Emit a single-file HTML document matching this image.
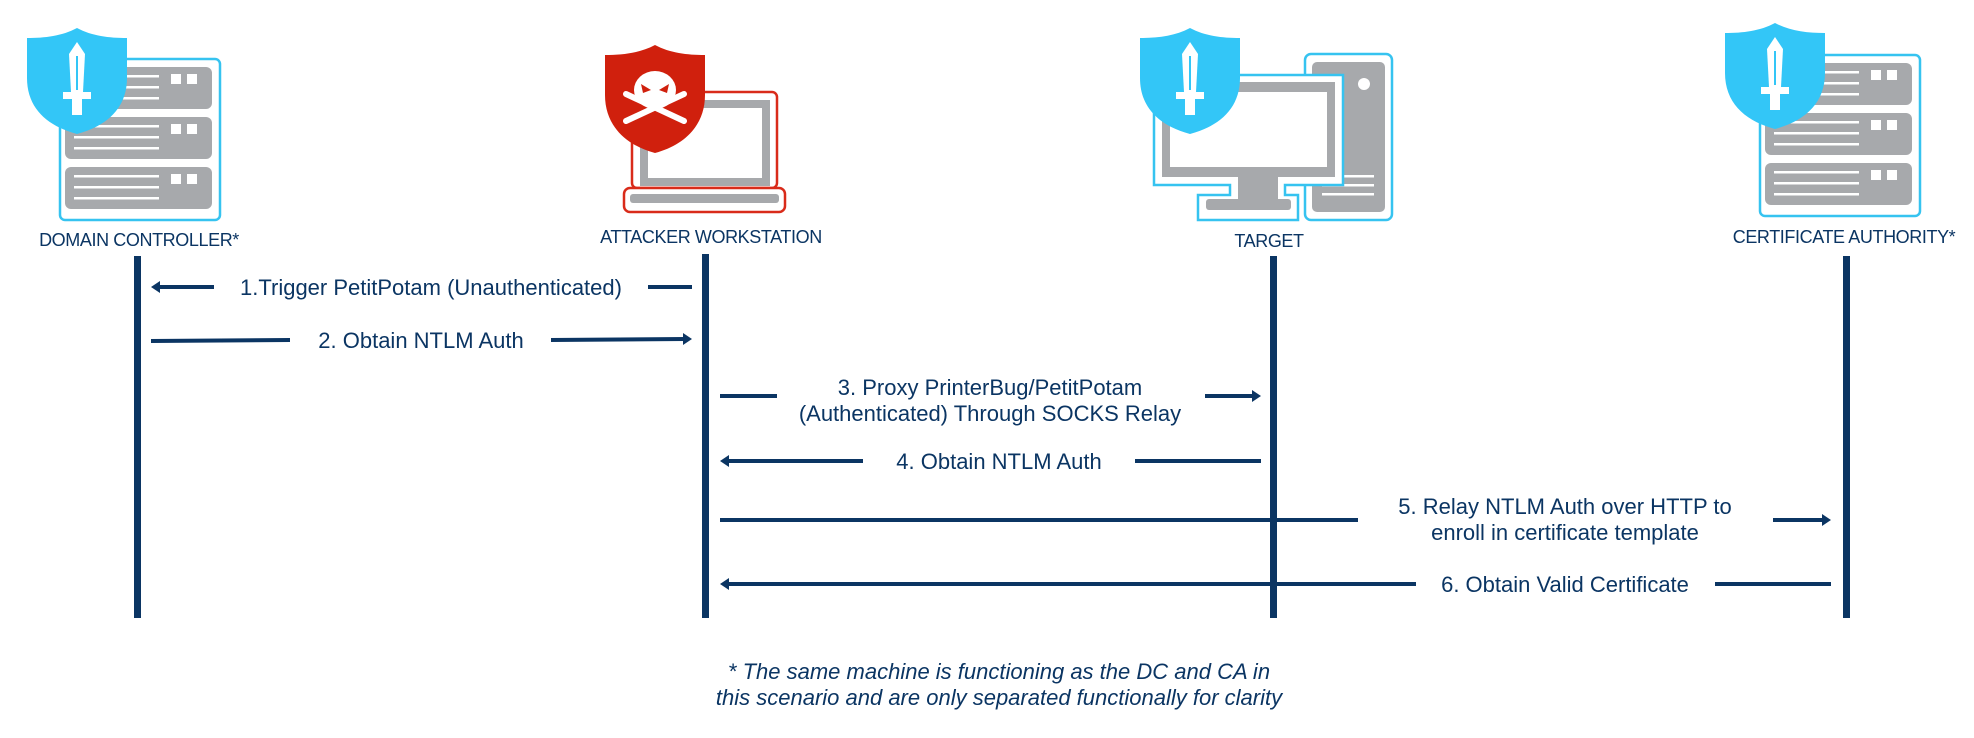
<!DOCTYPE html>
<html><head><meta charset="utf-8"><style>
html,body{margin:0;padding:0;background:#fff}
svg{display:block}
text{font-family:"Liberation Sans",sans-serif;fill:#0b3563}
</style></head><body>
<svg width="1974" height="738" viewBox="0 0 1974 738" xmlns="http://www.w3.org/2000/svg">
<defs>
<g id="shieldB">
<path d="M50,0 C35,8 18,10 0,10 L0,50 C0,80 20,98 50,106 C80,98 100,80 100,50 L100,10 C82,10 65,8 50,0 Z" fill="#33c6f7"/>
<path d="M50,14 L58,26 L56,64 L44,64 L42,26 Z" fill="#fff"/>
<rect x="49" y="28" width="2" height="34" fill="#33c6f7"/>
<rect x="36" y="64" width="28" height="7" fill="#fff"/>
<rect x="45" y="71" width="10" height="16" fill="#fff"/>
</g>
<g id="server">
<rect x="1" y="1" width="160" height="161" rx="5" fill="#fff" stroke="#36c3f0" stroke-width="2.5"/>
<g id="unit"><rect x="6" y="9" width="147" height="42" rx="6" fill="#a7a9ac"/>
<rect x="15" y="17" width="85" height="2.5" fill="#fff"/><rect x="15" y="28" width="85" height="2.5" fill="#fff"/><rect x="15" y="39" width="85" height="2.5" fill="#fff"/>
<rect x="112" y="16" width="10" height="10" fill="#fff"/><rect x="128" y="16" width="10" height="10" fill="#fff"/></g>
<use href="#unit" y="50"/><use href="#unit" y="100"/>
</g>
</defs>

<use href="#server" x="59" y="58"/>
<use href="#shieldB" x="27" y="28"/>
<use href="#server" x="1759" y="54"/>
<use href="#shieldB" x="1725" y="23"/>

<rect x="632" y="92" width="145" height="96" rx="5" fill="#fff" stroke="#d92b1a" stroke-width="2.5"/>
<rect x="640" y="100" width="130" height="86" fill="#a7a9ac"/>
<rect x="648" y="108" width="114" height="70" fill="#fff"/>
<rect x="624" y="188" width="161" height="24" rx="6" fill="#fff" stroke="#d92b1a" stroke-width="2.5"/>
<rect x="630" y="194" width="149" height="9" rx="3" fill="#a7a9ac"/>
<path d="M655,45 C640,53 623,55 605,55 L605,95 C605,125 625,145 655,153 C685,145 705,125 705,95 L705,55 C687,55 670,53 655,45 Z" fill="#d0200d"/>
<ellipse cx="655" cy="90" rx="21" ry="19" fill="#fff"/>
<path d="M641,84 L651,90 L643,93 Z M669,84 L659,90 L667,93 Z" fill="#d0200d"/>
<path d="M626,94 L684,121 M684,94 L626,121" stroke="#fff" stroke-width="6" stroke-linecap="round"/>

<rect x="1305" y="54" width="87" height="166" rx="6" fill="#fff" stroke="#36c3f0" stroke-width="2.5"/>
<rect x="1312" y="62" width="73" height="150" rx="5" fill="#a7a9ac"/>
<circle cx="1364" cy="84" r="6" fill="#fff"/>
<rect x="1322" y="175" width="52" height="2.5" fill="#fff"/><rect x="1322" y="184" width="52" height="2.5" fill="#fff"/><rect x="1322" y="193" width="52" height="2.5" fill="#fff"/>
<path d="M1154,75 L1343,75 L1343,185 L1285,185 L1285,195 L1298,195 L1298,220 L1198,220 L1198,195 L1230,195 L1230,185 L1154,185 Z" fill="#fff" stroke="#36c3f0" stroke-width="2.5"/>
<rect x="1162" y="82" width="173" height="95" fill="#a7a9ac"/>
<rect x="1170" y="92" width="157" height="75" fill="#fff"/>
<rect x="1238" y="177" width="40" height="22" fill="#a7a9ac"/>
<rect x="1206" y="199" width="85" height="11" rx="3" fill="#a7a9ac"/>
<use href="#shieldB" x="1140" y="28"/>

<g font-size="18" text-anchor="middle" letter-spacing="-0.4">
<text x="139" y="246">DOMAIN CONTROLLER*</text>
<text x="711" y="243">ATTACKER WORKSTATION</text>
<text x="1269" y="247">TARGET</text>
<text x="1844" y="243">CERTIFICATE AUTHORITY*</text>
</g>

<g fill="#0b3563">
<rect x="134" y="256" width="7" height="362"/>
<rect x="702" y="254" width="7" height="364"/>
<rect x="1270" y="256" width="7" height="362"/>
<rect x="1843" y="256" width="7" height="362"/>
</g>

<g stroke="#0b3563" stroke-width="4" fill="none">
<line x1="156" y1="287" x2="214" y2="287"/><line x1="648" y1="287" x2="692" y2="287"/>
<line x1="151" y1="341" x2="290" y2="340"/><line x1="551" y1="340" x2="685" y2="339"/>
<line x1="720" y1="396" x2="777" y2="396"/><line x1="1205" y1="396" x2="1253" y2="396"/>
<line x1="725" y1="461" x2="863" y2="461"/><line x1="1135" y1="461" x2="1261" y2="461"/>
<line x1="720" y1="520" x2="1358" y2="520"/><line x1="1773" y1="520" x2="1824" y2="520"/>
<line x1="725" y1="584" x2="1416" y2="584"/><line x1="1715" y1="584" x2="1831" y2="584"/>
</g>
<g fill="#0b3563">
<path d="M151,287 L160,281 L160,293 Z"/>
<path d="M692,339 L683,333 L683,345 Z"/>
<path d="M1261,396 L1252,390 L1252,402 Z"/>
<path d="M720,461 L729,455 L729,467 Z"/>
<path d="M1831,520 L1822,514 L1822,526 Z"/>
<path d="M720,584 L729,578 L729,590 Z"/>
</g>
<g font-size="22" text-anchor="middle">
<text x="431" y="295">1.Trigger PetitPotam (Unauthenticated)</text>
<text x="421" y="348">2. Obtain NTLM Auth</text>
<text x="990" y="395">3. Proxy PrinterBug/PetitPotam</text>
<text x="990" y="421">(Authenticated) Through SOCKS Relay</text>
<text x="999" y="469">4. Obtain NTLM Auth</text>
<text x="1565" y="514">5. Relay NTLM Auth over HTTP to</text>
<text x="1565" y="540">enroll in certificate template</text>
<text x="1565" y="592">6. Obtain Valid Certificate</text>
</g>
<g font-size="22" font-style="italic" text-anchor="middle">
<text x="999" y="679">* The same machine is functioning as the DC and CA in</text>
<text x="999" y="705">this scenario and are only separated functionally for clarity</text>
</g>
</svg>
</body></html>
